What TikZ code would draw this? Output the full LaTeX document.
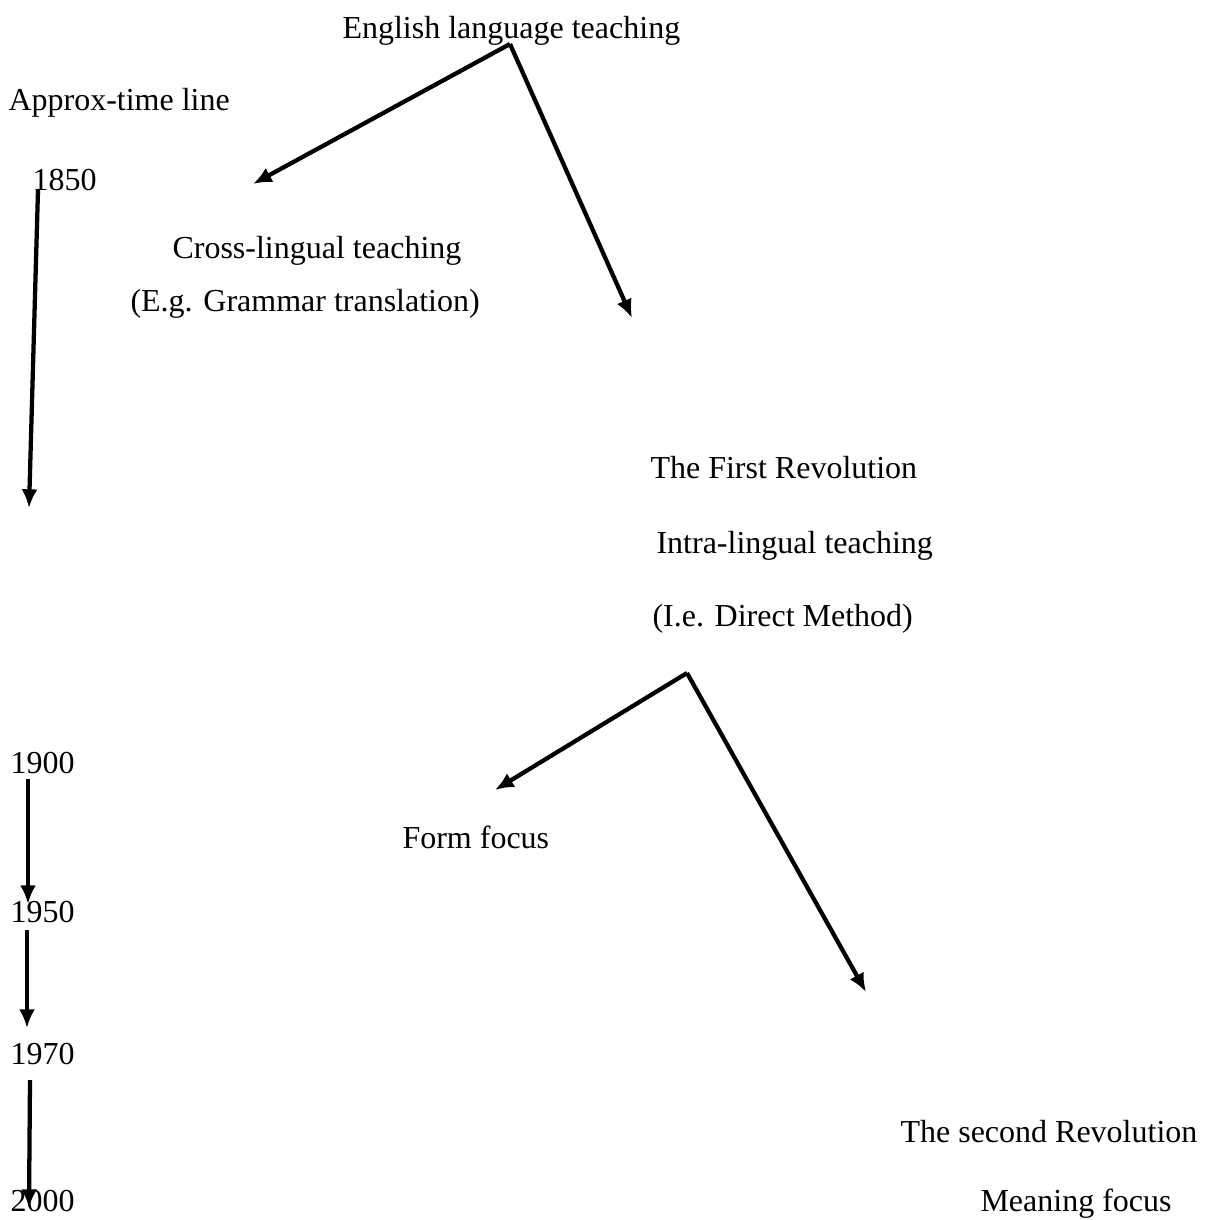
\documentclass[tikz,border=0pt]{standalone}
\usepackage{fontspec}
\setmainfont{Liberation Serif}
\usetikzlibrary{arrows.meta}
\begin{document}
\begin{tikzpicture}[
x=0.375pt,
y=-0.375pt,
every node/.style={
anchor=base west,
inner sep=0pt,
font=\fontsize{12}{14}\selectfont
},
conn/.style={
line width=1.6pt,
-{Latex[length=7pt,width=6pt]}
}
]
\useasboundingbox (0,0) rectangle (1205,1220);

\node (ELT) at (342,39)
{English language teaching};

\node (TL) at (8,111)
{Approx-time line};

\node (Y1850) at (32,190)
{1850};

\node (CL) at (172,258)
{Cross-lingual teaching};

\node (GT) at (130,311)
{(E.g. Grammar translation)};

\node (FR) at (650,478)
{The First Revolution};

\node (IL) at (656,553)
{Intra-lingual teaching};

\node (DM) at (652,626)
{(I.e. Direct Method)};

\node (Y1900) at (10,773)
{1900};

\node (FF) at (402,848)
{Form focus};

\node (Y1950) at (10,922)
{1950};

\node (Y1970) at (10,1064)
{1970};

\node (SR) at (900,1142)
{The second Revolution};

\node (Y2000) at (10,1211)
{2000};

\node (MF) at (980,1211)
{Meaning focus};

% arrow ends
\coordinate (ELTfork) at (510,44);
\coordinate (CLtip) at (253,184);
\coordinate (FRtip) at (632,318);
\coordinate (TLstart) at (38,190);
\coordinate (TLtip) at (29,508);
\coordinate (DMfork) at (687,673);
\coordinate (FFtip) at (495,790);
\coordinate (SRtip) at (866,992);
\coordinate (Y1900start) at (28,779);
\coordinate (Y1900tip) at (28,904);
\coordinate (Y1950start) at (27,930);
\coordinate (Y1950tip) at (27,1028);
\coordinate (Y1970start) at (30,1080);
\coordinate (Y1970tip) at (29,1208);

\draw[conn] (ELTfork) -- (CLtip);
\draw[conn] (ELTfork) -- (FRtip);
\draw[conn] (TLstart) -- (TLtip);
\draw[conn] (DMfork) -- (FFtip);
\draw[conn] (DMfork) -- (SRtip);
\draw[conn] (Y1900start) -- (Y1900tip);
\draw[conn] (Y1950start) -- (Y1950tip);
\draw[conn] (Y1970start) -- (Y1970tip);

\end{tikzpicture}
\end{document}
